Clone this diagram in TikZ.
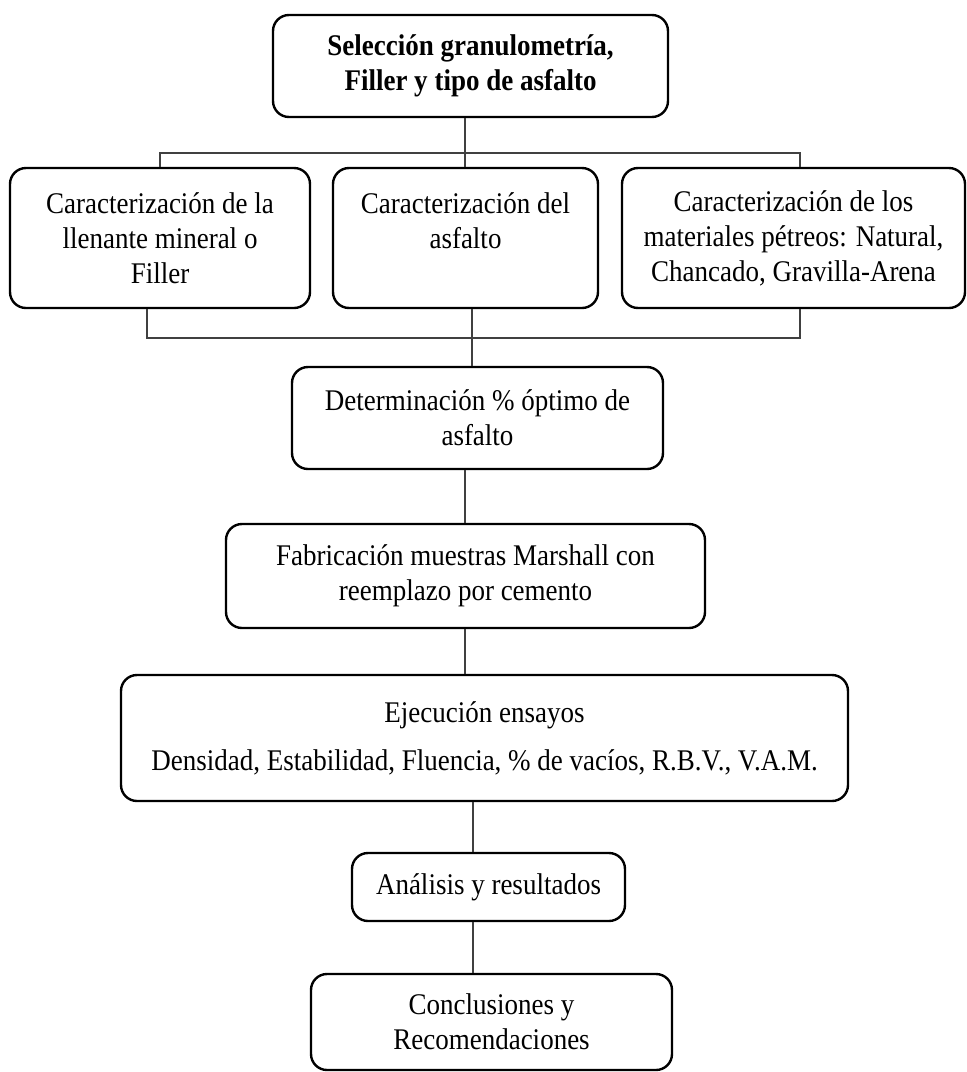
\documentclass[tikz,border=0pt]{standalone}
\usepackage{fontspec}
\setmainfont{Liberation Serif}[FakeStretch=0.9]
\usetikzlibrary{positioning}
\begin{document}
\begin{tikzpicture}[x=0.5pt,y=-0.5pt]
\tikzstyle{caja}=[draw,line width=1.2pt,rounded corners=8pt,align=center,inner sep=0pt,font=\fontsize{15}{17.5}\selectfont]
\tikzstyle{linea}=[draw,line width=0.7pt,black!75]
\useasboundingbox (0,0) rectangle (967,1072);
% nodos
\node[caja,minimum width=197.5pt,minimum height=51pt](sel) at (470.5,66){\textbf{Selección granulometría,}\\\textbf{Filler y tipo de asfalto}};
\node[caja,minimum width=150pt,minimum height=70pt](car-fil) at (160,238){Caracterización de la\\llenante mineral o\\Filler};
\node[caja,minimum width=132.5pt,minimum height=70pt](car-asf) at (465.5,238){Caracterización del\\asfalto\\\mbox{}};
\node[caja,minimum width=171.5pt,minimum height=70pt](car-pet) at (793.5,238){Caracterización de los\\materiales pétreos: Natural,\\Chancado, Gravilla-Arena};
\node[caja,minimum width=185.5pt,minimum height=51pt](det) at (477.5,418){Determinación \% óptimo de\\asfalto};
\node[caja,minimum width=239.5pt,minimum height=52pt](fab) at (465.5,576){Fabricación muestras Marshall con\\reemplazo por cemento};
\node[caja,minimum width=363.5pt,minimum height=63pt](eje) at (484.5,738){Ejecución ensayos\\[6.5pt]Densidad, Estabilidad, Fluencia, \% de vacíos, R.B.V., V.A.M.};
\node[caja,minimum width=136.5pt,minimum height=34pt](ana) at (488.5,887){Análisis y resultados};
\node[caja,minimum width=180.5pt,minimum height=48pt](con) at (491.5,1022){Conclusiones y\\Recomendaciones};
% barras
\coordinate (barra-sup) at (465,153);
\coordinate (barra-inf) at (472,338);
\coordinate (eje-bajo) at (473,800);
% conectores
\path[linea] (sel.south -| barra-sup) -- (car-asf.north -| barra-sup);
\path[linea] (car-fil.north) |- (barra-sup) -| ([xshift=3.25pt]car-pet.north);
\path[linea] ([xshift=-6.5pt]car-fil.south) |- (barra-inf) -| ([xshift=3.25pt]car-pet.south);
\path[linea] (car-asf.south -| barra-inf) -- (det.north -| barra-inf);
\path[linea] (det.south -| barra-sup) -- (fab.north -| barra-sup);
\path[linea] (fab.south -| barra-sup) -- (eje.north -| barra-sup);
\path[linea] (eje.south -| eje-bajo) -- (ana.north -| eje-bajo);
\path[linea] (ana.south -| eje-bajo) -- (con.north -| eje-bajo);
\end{tikzpicture}
\end{document}
